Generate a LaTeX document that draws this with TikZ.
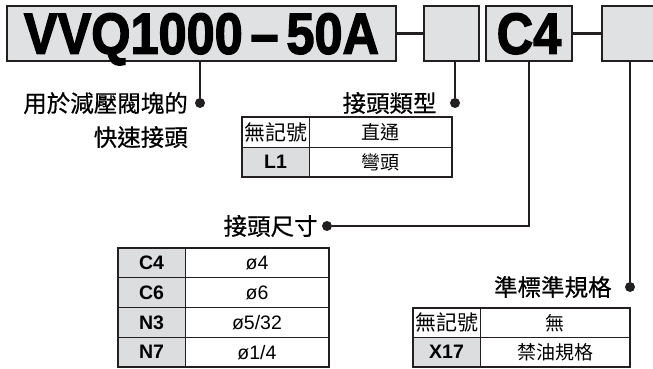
\documentclass[tikz,border=0pt]{standalone}
\usepackage{fontspec}
\usepackage{graphicx}
\usepackage{xcolor}
\setmainfont{Liberation Sans}
\newfontfamily\cjk{Noto Sans CJK TC}
\newfontfamily\cjkmid{Noto Sans CJK TC}[FakeBold=0.6]
\newfontfamily\heavyfont{Liberation Sans}[BoldFeatures={FakeBold=2.5}]
\usepackage{tikz}
\usetikzlibrary{positioning}
\definecolor{inkline}{HTML}{231F20}
\definecolor{boxgrey}{HTML}{E0E1E2}
\definecolor{cellgrey}{HTML}{DCDDDE}

\begin{document}
\begin{tikzpicture}[x=1pt, y=-1pt,
  topbox/.style={rectangle, draw=inkline, line width=2pt, fill=boxgrey,
    minimum height=55pt, inner sep=0pt, outer sep=0pt, text depth=0pt,
    font=\heavyfont\bfseries\fontsize{58}{58}\selectfont},
  joinline/.style={draw=inkline, line width=3pt},
  conn/.style={draw=inkline, line width=1.6pt},
  dot/.style={circle, fill=inkline, inner sep=0pt, minimum size=10pt},
  lbl/.style={inner sep=0pt, font=\cjkmid\fontsize{23.5}{34}\selectfont},
  cell/.style={rectangle, draw=inkline, line width=0.8pt, inner sep=0pt,
    outer sep=0pt, minimum height=30pt},
  codecell/.style={cell, fill=cellgrey, minimum width=67pt,
    font=\bfseries\fontsize{19.5}{19.5}\selectfont},
  nomark/.style={cell, fill=white, minimum width=67pt,
    font=\cjk\fontsize{21}{21}\selectfont},
  desccell/.style={cell, fill=white, font=\fontsize{19.5}{19.5}\selectfont},
  cjkdesc/.style={desccell, font=\cjk\fontsize{19}{19}\selectfont},
  tableframe/.style={draw=inkline, line width=1.3pt}]

\useasboundingbox (0,0) rectangle (653,369);
\clip (0,0) rectangle (653,369);

% --- Model code boxes ---
\node[topbox, minimum width=389pt] (vvq) at (201.5,33.5)
  {\scalebox{0.87}[1]{VVQ1000\hspace{9pt}–\hspace{9pt}50A}};
\node[topbox, minimum width=55pt] (blank1) at (451.5,33.5) {};
\node[topbox, minimum width=86pt] (c4box) at (529,33.5) {\scalebox{0.87}[1]{C4}};
\node[topbox, minimum width=63pt] (blank2) at (633.5,33.5) {};

\draw[joinline] (vvq.east) -- (blank1.west);
\draw[joinline] (c4box.east) -- (blank2.west);

% --- Dots ---
\node[dot] (d1) at (200,103) {};
\node[dot] (d2) at (455,103) {};
\node[dot] (d3) at (327,226) {};
\node[dot] (d4) at (630,287) {};

% --- Connectors ---
\draw[conn] (d1 |- vvq.south) -- (d1);
\draw[conn] (d2 |- blank1.south) -- (d2);
\draw[conn] (c4box.south) |- (d3);
\draw[conn] (d4 |- blank2.south) -- (d4);

% --- Labels ---
\node[lbl, align=right, anchor=north east] (uselbl) at (188,92)
  {用於減壓閥塊的\\快速接頭};
\node[lbl, left=13pt of d2] (typelbl) {接頭類型};
\node[lbl, left=4pt of d3] (sizelbl) {接頭尺寸};
\node[lbl, left=13pt of d4] (speclbl) {準標準規格};

% --- Table: fitting type ---
\node[nomark, anchor=north west] (ta1) at (242,117) {無記號};
\node[cjkdesc, minimum width=143pt, right=0pt of ta1] (ta2) {直通};
\node[codecell, below=0pt of ta1] (tb1) {L1};
\node[cjkdesc, minimum width=143pt, right=0pt of tb1] (tb2) {彎頭};
\draw[tableframe] (ta1.north west) rectangle (tb2.south east);

% --- Table: fitting size ---
\node[codecell, minimum height=29.75pt, anchor=north west] (sa1) at (118,248) {C4};
\node[desccell, minimum width=144pt, minimum height=29.75pt, right=0pt of sa1] (sa2) {ø4};
\node[codecell, minimum height=29.75pt, below=0pt of sa1] (sb1) {C6};
\node[desccell, minimum width=144pt, minimum height=29.75pt, right=0pt of sb1] (sb2) {ø6};
\node[codecell, minimum height=29.75pt, below=0pt of sb1] (sc1) {N3};
\node[desccell, minimum width=144pt, minimum height=29.75pt, right=0pt of sc1] (sc2) {ø5/32};
\node[codecell, minimum height=29.75pt, below=0pt of sc1] (sd1) {N7};
\node[desccell, minimum width=144pt, minimum height=29.75pt, right=0pt of sd1] (sd2) {ø1/4};
\draw[tableframe] (sa1.north west) rectangle (sd2.south east);

% --- Table: semi-standard ---
\node[nomark, minimum height=29.5pt, anchor=north west] (pa1) at (413,308) {無記號};
\node[cjkdesc, minimum width=150pt, minimum height=29.5pt, right=0pt of pa1] (pa2) {無};
\node[codecell, minimum height=29.5pt, below=0pt of pa1] (pb1) {X17};
\node[cjkdesc, minimum width=150pt, minimum height=29.5pt, right=0pt of pb1] (pb2) {禁油規格};
\draw[tableframe] (pa1.north west) rectangle (pb2.south east);

\end{tikzpicture}
\end{document}
